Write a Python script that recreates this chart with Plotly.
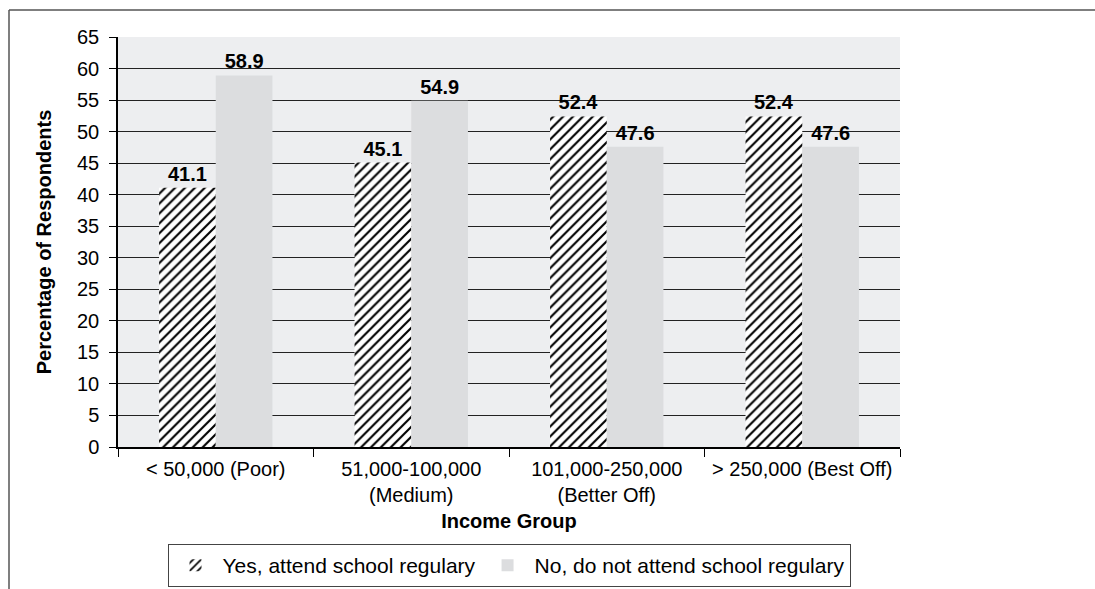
import plotly.graph_objects as go

categories = ["< 50,000 (Poor)", "51,000-100,000<br>(Medium)", "101,000-250,000<br>(Better Off)", "> 250,000 (Best Off)"]
yes_vals = [41.1, 45.1, 52.4, 52.4]
no_vals = [58.9, 54.9, 47.6, 47.6]
series_names = ["Yes, attend school regulary", "No, do not attend school regulary"]

FONT = "Liberation Sans, Arial, Helvetica, sans-serif"

fig = go.Figure()
fig.add_trace(go.Bar(
    x=categories, y=yes_vals, name=series_names[0],
    marker=dict(color="white", line=dict(width=0),
                pattern=dict(shape="/", fgcolor="#000000", bgcolor="white", fgopacity=1,
                             size=7, solidity=0.3)),
    text=[f"{v:.1f}" for v in yes_vals], textposition="outside",
    textfont=dict(family=FONT, size=20, color="black", weight="bold"),
    cliponaxis=False,
))
fig.add_trace(go.Bar(
    x=categories, y=no_vals, name=series_names[1],
    marker=dict(color="#DCDDDF", line=dict(width=0)),
    text=[f"{v:.1f}" for v in no_vals], textposition="outside",
    textfont=dict(family=FONT, size=20, color="black", weight="bold"),
    cliponaxis=False,
))

L, R, T, B = 118, 195, 37, 142
W, H = 1095, 589
pw, ph = W - L - R, H - T - B
def px(x):
    return (x - L) / pw
def py(y):
    return 1 - (y - T) / ph

fig.update_layout(
    width=W, height=H,
    margin=dict(l=L, r=R, t=T, b=B, autoexpand=False),
    paper_bgcolor="white", plot_bgcolor="#EDEEF0",
    font=dict(family=FONT, size=20, color="black"),
    barmode="group", bargap=0.42, bargroupgap=0,
    showlegend=True,
    legend=dict(orientation="h", x=0.5, xanchor="center", y=py(544), yanchor="top",
                bordercolor="#444", borderwidth=1, bgcolor="white",
                font=dict(family=FONT, size=21), itemwidth=44,
                traceorder="normal"),
    shapes=[
        dict(type="line", xref="paper", yref="paper", x0=px(9), x1=px(1095), y0=py(10), y1=py(10),
             line=dict(color="#555", width=1.5)),
        dict(type="line", xref="paper", yref="paper", x0=px(9), x1=px(9), y0=py(10), y1=py(589),
             line=dict(color="#555", width=1.5)),
    ],
)
fig.update_xaxes(
    showline=True, linecolor="black", linewidth=1.5,
    ticks="outside", tickson="boundaries", ticklen=8, tickcolor="black",
    ticklabelstandoff=3,
    tickfont=dict(family=FONT, size=20),
    title=dict(text="<b>Income Group</b>", font=dict(family=FONT, size=20), standoff=9),
)
fig.update_yaxes(
    range=[0, 65], dtick=5, showline=True, linecolor="black", linewidth=1.5,
    ticks="outside", ticklen=7, tickcolor="black",
    ticklabelstandoff=6,
    showgrid=True, gridcolor="#222", gridwidth=1, zeroline=False,
    tickfont=dict(family=FONT, size=20),
    title=dict(text="<b>Percentage of Respondents</b>", font=dict(family=FONT, size=20), standoff=20),
)

fig.write_html("out.html")
